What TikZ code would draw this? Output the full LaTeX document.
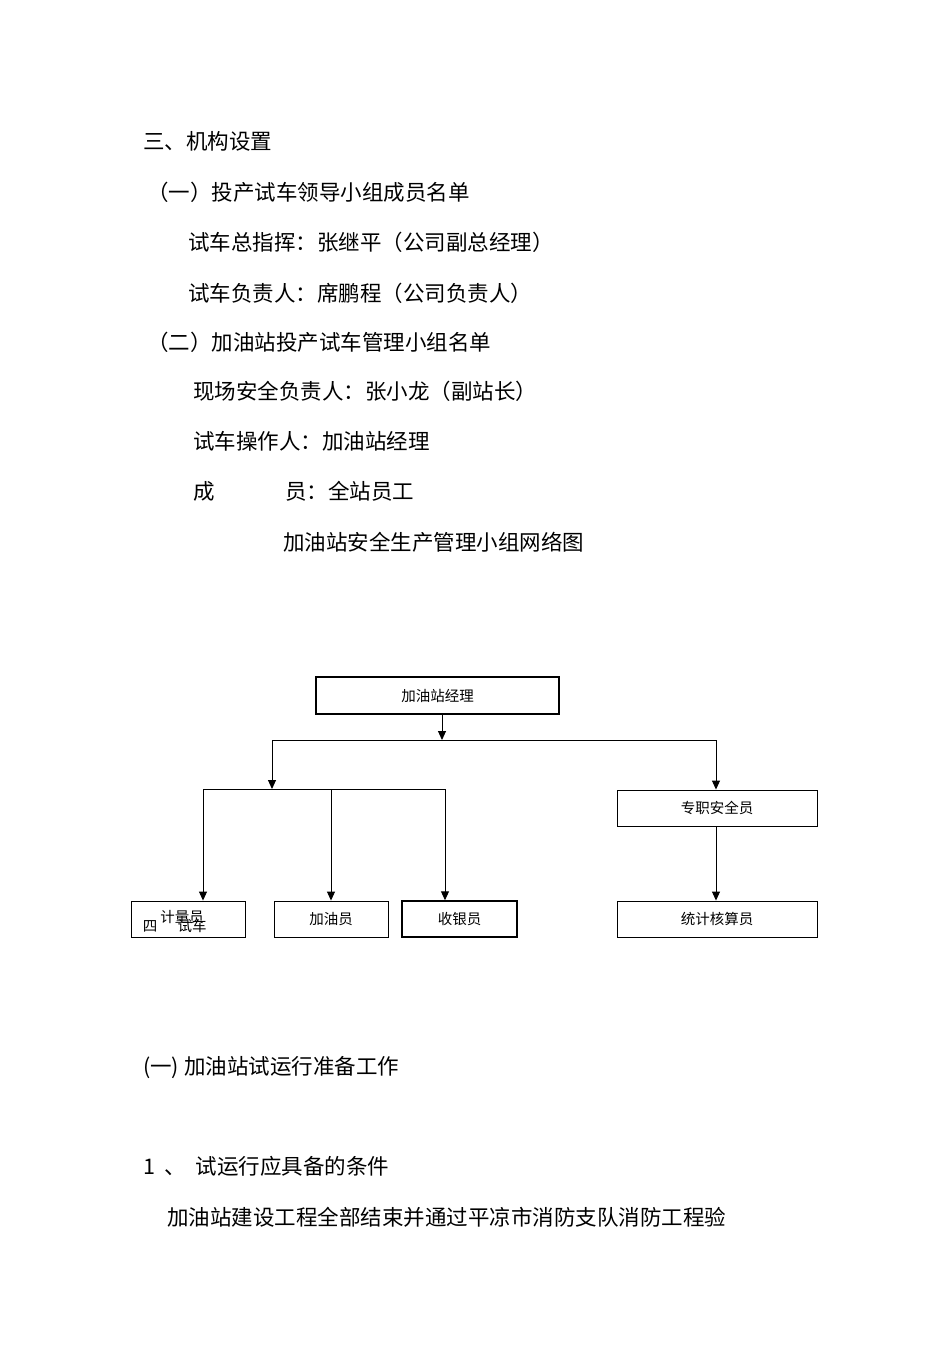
\documentclass[tikz,border=0pt]{standalone}
\usepackage{fontspec}
\setmainfont{Noto Sans CJK SC}
\usetikzlibrary{arrows.meta}
\begin{document}
\begin{tikzpicture}[x=1pt,y=-1pt,
  body/.style={anchor=west,inner sep=0pt,font=\fontsize{21.5}{24}\selectfont},
  box/.style={draw,line width=0.9pt,inner sep=0pt,font=\fontsize{14.5}{16}\selectfont},
  arr/.style={line width=1pt,-{Triangle[length=9pt,width=8pt]}},
  ln/.style={line width=1pt}]
\useasboundingbox[fill=white] (0,0) rectangle (950,1345);
\node[body] (t1) at (143,141) {三、机构设置};
\node[body] (t2) at (147,192) {（一）投产试车领导小组成员名单};
\node[body] (t3) at (188,242) {试车总指挥：张继平（公司副总经理）};
\node[body] (t4) at (188,293) {试车负责人：席鹏程（公司负责人）};
\node[body] (t5) at (147,342) {（二）加油站投产试车管理小组名单};
\node[body] (t6) at (193,391) {现场安全负责人：张小龙（副站长）};
\node[body] (t7) at (193,441) {试车操作人：加油站经理};
\node[body] (t8) at (193,491) {成};
\node[body] (t9) at (285,491) {员：全站员工};
\node[body] (t10) at (283,542) {加油站安全生产管理小组网络图};
\node[body] (t11) at (143,1068) {(一) 加油站试运行准备工作};
\node[body] (t12) at (143,1166) {1 \ 、\ \ 试运行应具备的条件};
\node[body] (t13) at (167,1217) {加油站建设工程全部结束并通过平凉市消防支队消防工程验};

\node[box,line width=1.5pt,minimum width=243pt,minimum height=37pt] (m) at (437.5,695.5) {加油站经理};
\node[box,minimum width=200pt,minimum height=36pt] (s) at (717,808) {专职安全员};
\node[box,minimum width=200pt,minimum height=36pt] (c) at (717,919) {统计核算员};
\node[box,minimum width=114pt,minimum height=36pt] (a) at (188,919) {};
\node[box,minimum width=114pt,minimum height=36pt] (b) at (331,919) {加油员};
\node[box,line width=1.5pt,minimum width=115pt,minimum height=36pt] (d) at (459.5,919) {收银员};
\node[inner sep=0pt,font=\fontsize{14.5}{16}\selectfont] (a1) at (182,917) {计量员};
\node[inner sep=0pt,font=\fontsize{14.5}{16}\selectfont] (a2) at (150,926) {四};
\node[inner sep=0pt,font=\fontsize{14.5}{16}\selectfont] (a3) at (192,926) {试车};

\coordinate (j) at (442,740);
\coordinate (jl) at (272,740);
\coordinate (jr) at (716,740);
\coordinate (k) at (272,789);
\coordinate (kl) at (203,789);
\coordinate (kr) at (445,789);
\draw[arr] (m.south -| j) -- (j);
\draw[ln] (jl) -- (jr);
\draw[arr] (jl) -- (k);
\draw[arr] (jr) -- (s.north -| jr);
\draw[ln] (kl) -- (kr);
\draw[arr] (kl) -- (a.north -| kl);
\draw[arr] (kl -| b) -- (b.north);
\draw[arr] (kr) -- (d.north -| kr);
\draw[arr] (s.south -| jr) -- (c.north -| jr);
\end{tikzpicture}
\end{document}
